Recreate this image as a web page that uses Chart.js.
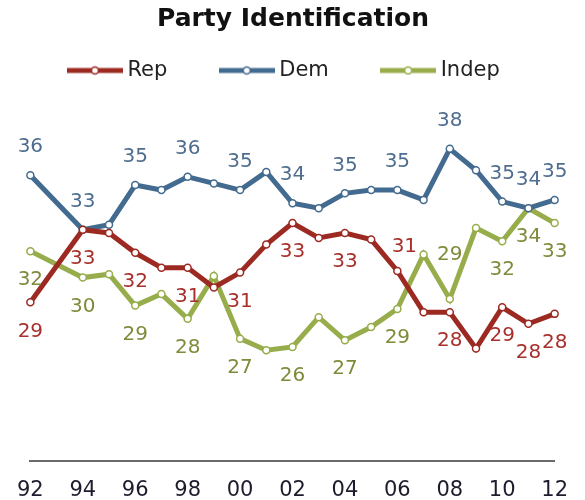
<!DOCTYPE html>
<html>
<head>
<meta charset="utf-8">
<script src="https://cdn.jsdelivr.net/npm/chart.js@4/dist/chart.umd.min.js"></script>
<style>
  html, body { margin: 0; padding: 0; background: #fff; }
  #wrap { width: 585px; height: 500px; }
</style>
</head>
<body>
<div id="wrap"><canvas id="chart" width="585" height="500"></canvas></div>
<script>
// Party Identification, yearly points 1992-2012 (no 1993 reading)

const years = ['92', '93', '94', '95', '96', '97', '98', '99', '00', '01', '02',
               '03', '04', '05', '06', '07', '08', '09', '10', '11', '12'];

const repValues = [28.7, null, 33.1, 32.9, 31.7, 30.8, 30.8, 29.6, 30.5, 32.2, 33.5,
                   32.6, 32.9, 32.5, 30.6, 28.1, 28.1, 25.9, 28.4, 27.4, 28.0];
const demValues = [36.4, null, 33.1, 33.4, 35.8, 35.5, 36.3, 35.9, 35.5, 36.6, 34.7,
                   34.4, 35.3, 35.5, 35.5, 34.9, 38.0, 36.7, 34.8, 34.4, 34.9];
const indValues = [31.8, null, 30.2, 30.4, 28.5, 29.2, 27.7, 30.3, 26.5, 25.8, 26.0,
                   27.8, 26.4, 27.2, 28.3, 31.6, 28.9, 33.2, 32.4, 34.4, 33.5];

// printed data labels (null = no label)
const repLabels = ['29', null, '33', null, '32', null, '31', null, '31', null, '33',
                   null, '33', null, '31', null, '28', null, '29', '28', '28'];
const demLabels = ['36', null, '33', null, '35', null, '36', null, '35', null, '34',
                   null, '35', null, '35', null, '38', null, '35', '34', '35'];
const indLabels = ['32', null, '30', null, '29', null, '28', null, '27', null, '26',
                   null, '27', null, '29', null, '29', null, '32', '34', '33'];

// where each label sits relative to its point
const repLabelPos = ['below', null, 'below', null, 'below', null, 'below', null, 'below', null, 'below',
                     null, 'below', null, 'aboveRight', null, 'below', null, 'below', 'below', 'below'];
const demLabelPos = ['above', null, 'above', null, 'above', null, 'above', null, 'above', null, 'above',
                     null, 'above', null, 'above', null, 'above', null, 'above', 'above', 'above'];
const indLabelPos = ['below', null, 'below', null, 'below', null, 'below', null, 'below', null, 'below',
                     null, 'below', null, 'below', null, 'high', null, 'below', 'below', 'below'];

const FONT = "'DejaVu Sans', Verdana, sans-serif";

const series = [
    { name: 'Rep',   values: repValues, labels: repLabels, pos: repLabelPos, line: '#9c2a22', text: '#a8302c' },
    { name: 'Dem',   values: demValues, labels: demLabels, pos: demLabelPos, line: '#436a8f', text: '#4f6d8f' },
    { name: 'Indep', values: indValues, labels: indLabels, pos: indLabelPos, line: '#97ad4b', text: '#7f8b3b' }
];

// trailing spaces give the wide gaps between legend entries
const legendText = ['Rep     ', 'Dem     ', 'Indep  '];

// legend swatch: thick line with a small open circle
function makeSwatch(color) {
    const c = document.createElement('canvas');
    c.width = 56;
    c.height = 12;
    const g = c.getContext('2d');
    g.strokeStyle = color;
    g.lineWidth = 5;
    g.beginPath();
    g.moveTo(0, 6);
    g.lineTo(56, 6);
    g.stroke();
    g.beginPath();
    g.arc(28, 6, 3.5, 0, Math.PI * 2);
    g.fillStyle = '#fff';
    g.fill();
    g.lineWidth = 1.5;
    g.stroke();
    return c;
}

const labelOffsets = {
    above: [0, -28],
    below: [0, 29],
    high: [0, -44],
    aboveRight: [7, -24]
};

const pointLabels = {
    id: 'pointLabels',
    afterDatasetsDraw(chart) {
        const ctx = chart.ctx;
        ctx.save();
        ctx.font = '20px ' + FONT;
        ctx.textAlign = 'center';
        ctx.textBaseline = 'middle';
        series.forEach((s, di) => {
            const meta = chart.getDatasetMeta(di);
            meta.data.forEach((pt, i) => {
                const txt = s.labels[i];
                if (!txt || s.values[i] == null) return;
                const off = labelOffsets[s.pos[i]];
                ctx.fillStyle = s.text;
                ctx.fillText(txt, pt.x + off[0], pt.y + off[1]);
            });
        });
        ctx.restore();
    }
};

const datasets = series.map(s => ({
    label: s.name,
    data: s.values,
    borderColor: s.line,
    backgroundColor: s.line,
    borderWidth: 5,
    pointRadius: 3.5,
    pointBorderWidth: 1.5,
    pointBackgroundColor: '#fff',
    pointBorderColor: s.line,
    spanGaps: true,
    tension: 0,
    fill: false
}));

new Chart(document.getElementById('chart'), {
    type: 'line',
    data: { labels: years, datasets: datasets },
    options: {
        responsive: false,
        animation: false,
        events: [],
        layout: { padding: { left: 28, right: 27, top: 0, bottom: -20 } },
        plugins: {
            title: {
                display: true,
                text: 'Party Identification',
                color: '#111',
                font: { family: FONT, size: 25, weight: 'bold' },
                padding: { top: 4, bottom: 2 }
            },
            legend: {
                display: true,
                position: 'top',
                labels: {
                    color: '#222',
                    font: { family: FONT, size: 21 },
                    usePointStyle: true,
                    pointStyleWidth: 44,
                    padding: 24,
                    generateLabels(chart) {
                        const items = Chart.defaults.plugins.legend.labels.generateLabels(chart);
                        items.forEach((it, i) => {
                            it.text = legendText[i];
                            it.pointStyle = makeSwatch(series[i].line);
                        });
                        return items;
                    }
                }
            },
            tooltip: { enabled: false }
        },
        scales: {
            x: {
                type: 'category',
                offset: false,
                grid: { display: false, drawTicks: false },
                border: { display: true, color: '#6b6b6b', width: 2 },
                ticks: {
                    autoSkip: false,
                    maxRotation: 0,
                    padding: 17,
                    color: '#1c1c2c',
                    font: { family: FONT, size: 21 },
                    callback: function (val, idx) {
                        return idx % 2 === 0 ? years[idx] : '';
                    }
                }
            },
            y: {
                display: false,
                min: 19.1,
                max: 41.5
            }
        }
    },
    plugins: [pointLabels]
});
</script>
</body>
</html>
